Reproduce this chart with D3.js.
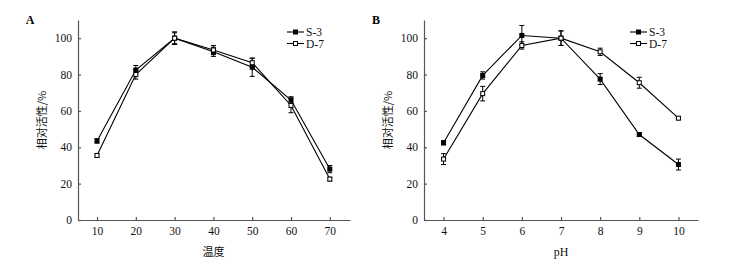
<!DOCTYPE html>
<html>
  <head>
    <meta charset="UTF-8" />
    <script src="https://cdnjs.cloudflare.com/ajax/libs/d3/7.8.5/d3.min.js"></script>
    <style>
      body { margin: 0; background: #fff; }
      svg { font-family: "Liberation Serif", "Times New Roman", serif; }
    </style>
  </head>
  <body>
    <svg width="735" height="265"></svg>
    <script>
      // panel A: temperature
      const tempX = [10, 20, 30, 40, 50, 60, 70];
      const tempS3 = [43.5, 82.5, 100, 92.5, 84, 66, 28];
      const tempS3Err = [1.2, 2.5, 3.5, 2.5, 5, 1.8, 2];
      const tempD7 = [35.5, 80, 100, 93.5, 86.5, 63, 22.5];
      const tempD7Err = [1, 2.5, 3, 2.5, 2.5, 4, 1];

      // panel B: pH
      const phX = [4, 5, 6, 7, 8, 9, 10];
      const phS3 = [42.5, 79.5, 101.5, 100, 77.5, 47, 30.5];
      const phS3Err = [1.2, 2, 5.5, 4, 3, 1, 3];
      const phD7 = [33.5, 69.5, 96, 100, 92.5, 75.5, 56];
      const phD7Err = [3, 4, 2, 4, 2, 3, 0.8];

      const yTicks = [0, 20, 40, 60, 80, 100];
      const seriesNames = ["S-3", "D-7"];
      const yTitle = "相对活性/%";

      const svg = d3.select("svg");
      const cjk = '"Noto Sans CJK SC", sans-serif';

      function drawPanel(p) {
        const x = d3.scaleLinear().domain(p.xDomain).range([p.left, p.right]);
        const y = d3.scaleLinear().domain([0, 110]).range([220, 20]);
        const g = svg.append("g");

        const xAxis = d3.axisBottom(x).tickValues(p.xs).tickFormat(d3.format("d"))
          .tickSize(-3).tickPadding(7).tickSizeOuter(0);
        const yAxis = d3.axisLeft(y).tickValues(yTicks).tickSize(-3).tickPadding(6).tickSizeOuter(0);
        const gx = g.append("g").attr("transform", `translate(0,${y(0)})`).call(xAxis);
        const gy = g.append("g").attr("transform", `translate(${p.left},0)`).call(yAxis);
        [gx, gy].forEach(a => {
          a.selectAll("path, line").attr("stroke", "#555").attr("stroke-width", 1.2);
          a.selectAll("text").attr("font-size", 11.5).attr("fill", "#111")
            .attr("font-family", '"Liberation Serif", serif');
        });

        const line = d3.line().x((d, i) => x(p.xs[i])).y(d => y(d));
        const series = [
          { vals: p.s3, err: p.s3Err, fill: "#000" },
          { vals: p.d7, err: p.d7Err, fill: "#fff" }
        ];
        series.forEach(s => {
          g.append("path").attr("d", line(s.vals)).attr("fill", "none")
            .attr("stroke", "#000").attr("stroke-width", 1.1);
          const eb = g.append("g").selectAll("g").data(s.vals).join("g");
          eb.append("line")
            .attr("x1", (d, i) => x(p.xs[i])).attr("x2", (d, i) => x(p.xs[i]))
            .attr("y1", (d, i) => y(d - s.err[i])).attr("y2", (d, i) => y(d + s.err[i]))
            .attr("stroke", "#000").attr("stroke-width", 1);
          [-1, 1].forEach(k => {
            eb.append("line")
              .attr("x1", (d, i) => x(p.xs[i]) - 2.5).attr("x2", (d, i) => x(p.xs[i]) + 2.5)
              .attr("y1", (d, i) => y(d + k * s.err[i])).attr("y2", (d, i) => y(d + k * s.err[i]))
              .attr("stroke", "#000").attr("stroke-width", 1);
          });
          g.append("g").selectAll("rect").data(s.vals).join("rect")
            .attr("x", (d, i) => x(p.xs[i]) - 2).attr("y", d => y(d) - 2)
            .attr("width", 4).attr("height", 4)
            .attr("fill", s.fill).attr("stroke", "#000").attr("stroke-width", 1);
        });

        // legend
        seriesNames.forEach((name, i) => {
          const ly = 32 + i * 11.5;
          g.append("line").attr("x1", p.legX).attr("x2", p.legX + 17)
            .attr("y1", ly).attr("y2", ly).attr("stroke", "#000").attr("stroke-width", 1.1);
          g.append("rect").attr("x", p.legX + 6.5).attr("y", ly - 2)
            .attr("width", 4).attr("height", 4)
            .attr("fill", series[i].fill).attr("stroke", "#000");
          g.append("text").attr("x", p.legX + 19).attr("y", ly + 4)
            .attr("font-size", 11.5).attr("fill", "#111").text(name);
        });

        g.append("text").attr("x", p.labelX).attr("y", 24)
          .attr("font-size", 12).attr("font-weight", "bold").attr("text-anchor", "middle").text(p.label);
        g.append("text")
          .attr("transform", `translate(${p.left - 32},${y(55)}) rotate(-90)`)
          .attr("text-anchor", "middle").attr("font-size", 11)
          .attr("font-family", cjk).attr("fill", "#111").text(yTitle);
        g.append("text").attr("x", (x(p.xs[0]) + x(p.xs[6])) / 2).attr("y", 256)
          .attr("text-anchor", "middle").attr("font-size", p.xTitleFont ? 11 : 12)
          .attr("font-family", p.xTitleFont || '"Liberation Serif", serif')
          .attr("fill", "#111").text(p.xTitle);
      }

      drawPanel({
        xs: tempX, xDomain: [5.1, 75.2], left: 78, right: 350,
        s3: tempS3, s3Err: tempS3Err, d7: tempD7, d7Err: tempD7Err,
        legX: 287, label: "A", labelX: 30, xTitle: "温度", xTitleFont: cjk
      });
      drawPanel({
        xs: phX, xDomain: [3.5, 10.5], left: 424, right: 698,
        s3: phS3, s3Err: phS3Err, d7: phD7, d7Err: phD7Err,
        legX: 630, label: "B", labelX: 376, xTitle: "pH"
      });
    </script>
  </body>
</html>
